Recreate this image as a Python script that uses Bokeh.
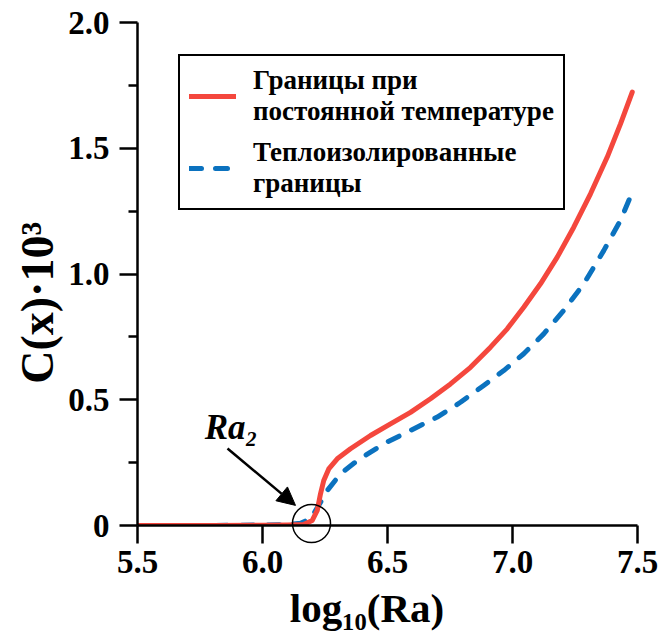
import numpy as np
from bokeh.plotting import figure
from bokeh.models import (Range1d, FixedTicker, Legend, LegendItem, Label, Arrow,
                          NormalHead)
from bokeh.embed import file_html
from bokeh.resources import INLINE

# ---- data ----
red_x = [5.5, 5.8, 6.0, 6.1, 6.164, 6.199, 6.219, 6.232, 6.245, 6.265, 6.299, 6.352,
         6.432, 6.512, 6.592, 6.672, 6.752, 6.832, 6.912, 6.979, 7.045, 7.112,
         7.179, 7.245, 7.312, 7.379, 7.432, 7.479]
red_y = [0.0, 0.0, 0.001, 0.002, 0.004, 0.02, 0.06, 0.126, 0.179, 0.225, 0.265, 0.305,
         0.358, 0.404, 0.45, 0.504, 0.563, 0.629, 0.709, 0.782, 0.868, 0.961,
         1.067, 1.186, 1.319, 1.465, 1.597, 1.723]
blue_x = [5.5, 5.8, 6.0, 6.1, 6.152, 6.192, 6.225, 6.259, 6.312, 6.379, 6.485, 6.592,
          6.699, 6.792, 6.885, 6.965, 7.045, 7.125, 7.205, 7.285, 7.365, 7.432, 7.479]
blue_y = [0.0, 0.0, 0.002, 0.004, 0.009, 0.027, 0.08, 0.139, 0.206, 0.258, 0.325, 0.378,
          0.431, 0.49, 0.557, 0.616, 0.683, 0.762, 0.855, 0.961, 1.093, 1.213, 1.325]
x_ticks = [5.5, 6.0, 6.5, 7.0, 7.5]
y_ticks = [0.0, 0.5, 1.0, 1.5, 2.0]
y_minor = [0.25, 0.75, 1.25, 1.75]
ra2_point = (6.196, 0.008)
arrow_tail = (5.86, 0.306)
arrow_tip = (6.132, 0.08)
ra2_text_pos = (5.875, 0.39)

label_red = "Границы при\nпостоянной температуре"
label_blue = "Теплоизолированные\nграницы"
x_title = "log₁₀(Ra)\u00a0\u00a0\u00a0\u00a0"
y_title = "C(x)·10³\u00a0\u00a0\u00a0\u00a0\u00a0"

RED = "#F4473D"
BLUE = "#0B72BF"
FONT = "Liberation Serif"

p = figure(frame_width=500, frame_height=503, output_backend="svg", toolbar_location=None,
           x_range=Range1d(5.5, 7.5), y_range=Range1d(0, 2.0),
           min_border_left=137, min_border_right=21, min_border_top=22,
           min_border_bottom=100)
p.outline_line_color = None
p.grid.visible = False
p.background_fill_color = "white"
p.border_fill_color = "white"

r2 = p.line(blue_x, blue_y, line_color=BLUE, line_width=5, line_dash="12 14",
            line_cap="round", line_join="round")
r1 = p.line(red_x, red_y, line_color=RED, line_width=5, line_cap="round", line_join="round")

# axes
for ax in (p.xaxis[0], p.yaxis[0]):
    ax.axis_line_width = 2.5
    ax.axis_line_color = "black"
    ax.major_tick_line_width = 2.5
    ax.minor_tick_line_width = 2.5
    ax.major_tick_line_color = "black"
    ax.minor_tick_line_color = "black"
    ax.major_tick_out = 18
    ax.major_tick_in = 0
    ax.minor_tick_out = 9
    ax.minor_tick_in = 0
    ax.major_label_text_font = FONT
    ax.major_label_text_font_style = "bold"
    ax.major_label_text_font_size = "33px"
    ax.major_label_text_color = "black"
    ax.axis_label_text_font = FONT
    ax.axis_label_text_font_style = "bold"
    ax.axis_label_text_color = "black"

p.xaxis.ticker = FixedTicker(ticks=x_ticks)
p.xaxis.major_label_overrides = {t: f"{t:.1f}" for t in x_ticks}
p.xaxis.major_label_standoff = 7
p.xaxis.minor_tick_line_color = None
p.xaxis.axis_label = x_title
p.xaxis.axis_label_text_font_size = "41px"
p.xaxis.axis_label_standoff = 9
p.yaxis.ticker = FixedTicker(ticks=y_ticks, minor_ticks=y_minor)
p.yaxis.major_label_overrides = {t: ("0" if t == 0 else f"{t:.1f}") for t in y_ticks}
p.yaxis.major_label_standoff = 10
p.yaxis.axis_label = y_title
p.yaxis.axis_label_text_font_size = "46px"
p.yaxis.axis_label_standoff = 2

# Ra2 marker
c = p.scatter([ra2_point[0]], [ra2_point[1]], marker="circle", size=38,
              fill_color=None, line_color="black", line_width=1.5)
c.level = "overlay"
p.add_layout(Arrow(x_start=arrow_tail[0], y_start=arrow_tail[1],
                   x_end=arrow_tip[0], y_end=arrow_tip[1], line_width=2.5,
                   line_color="black",
                   end=NormalHead(size=18, fill_color="black", line_color="black")))
p.add_layout(Label(x=ra2_text_pos[0], y=ra2_text_pos[1], text="Ra₂", text_font=FONT,
                   text_font_style="bold italic", text_font_size="35px",
                   text_align="center", text_baseline="middle", text_color="black"))

legend = Legend(items=[LegendItem(label=label_red, renderers=[r1]),
                       LegendItem(label=label_blue, renderers=[r2])],
                location=(41, 315))
legend.label_text_font = FONT
legend.label_text_font_style = "bold"
legend.label_text_font_size = "27px"
legend.label_text_line_height = 1.05
legend.label_text_color = "black"
legend.glyph_width = 47
legend.glyph_height = 30
legend.label_standoff = 17
legend.padding = 9
legend.spacing = 10
legend.margin = 0
legend.border_line_color = "black"
legend.border_line_alpha = 1.0
legend.border_line_width = 2.5
legend.background_fill_alpha = 1.0
p.add_layout(legend)

open("out.html", "w").write(file_html(p, INLINE))
